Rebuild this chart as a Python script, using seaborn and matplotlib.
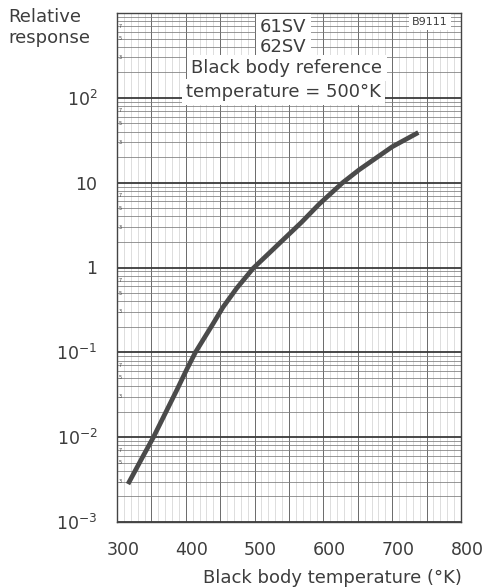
import numpy as np
import pandas as pd
import matplotlib
matplotlib.use("Agg")
import matplotlib.pyplot as plt
import matplotlib.transforms as mtransforms
import seaborn as sns

# Dữ liệu đọc từ đồ thị
temps = [316, 338, 353, 387, 401, 414, 440, 454, 474, 498, 522, 546, 568,
         594, 628, 652, 700, 738]
response = [0.0028, 0.0060, 0.010, 0.036, 0.062, 0.10, 0.22, 0.34, 0.57, 0.98,
            1.5, 2.3, 3.4, 5.6, 10.0, 14.2, 26.5, 39.0]
x_ticks = [300, 400, 500, 600, 700, 800]
y_ticks = [1e-3, 1e-2, 1e-1, 1, 10, 100]
y_tick_labels = ["$10^{-3}$", "$10^{-2}$", "$10^{-1}$", "1", "10", "$10^{2}$"]
minor_marks = [3, 5, 7]

df = pd.DataFrame({"temp": temps, "response": response})

sns.set_theme(style="white")
plt.rcParams["font.family"] = ["DejaVu Sans"]
ink = "#3d3d3d"

fig = plt.figure(figsize=(4.86, 5.88), dpi=100)
ax = fig.add_axes([117 / 486, 1 - 522 / 588, 344 / 486, 509 / 588])

ax.set_yscale("log")
ax.set_xlim(300, 800)
ax.set_ylim(1e-3, 1e3)

# Lưới giấy log
for t in range(300, 801, 10):
    if t % 50 == 0:
        ax.axvline(t, color="#6a6a6a", lw=0.7, zorder=1)
    else:
        ax.axvline(t, color="#d0d0d0", lw=0.5, zorder=1)
for e in range(-3, 3):
    base = 10.0 ** e
    ax.axhline(base, color="#3a3a3a", lw=1.3, zorder=1)
    for m in range(2, 10):
        ax.axhline(m * base, color="#7a7a7a", lw=0.55, zorder=1)
    for m in minor_marks:
        ax.text(0.006, m * base, str(m), transform=ax.get_yaxis_transform(),
                fontsize=3.5, color=ink, ha="left", va="center", zorder=2)

sns.lineplot(data=df, x="temp", y="response", ax=ax, color="#4a4a4a",
             lw=3.4, solid_capstyle="butt", solid_joinstyle="round", zorder=5)

ax.set_xticks(x_ticks)
ax.set_xticklabels([str(v) for v in x_ticks], fontsize=12.5, color=ink)
ax.set_yticks(y_ticks)
ax.set_yticklabels(y_tick_labels, fontsize=12.5, color=ink)
ax.minorticks_off()
ax.tick_params(axis="both", length=0)
ax.tick_params(axis="x", pad=14)
ax.tick_params(axis="y", pad=14)
shift = mtransforms.ScaledTranslation(6 / 100, 0, fig.dpi_scale_trans)
for lab in ax.get_xticklabels():
    lab.set_transform(lab.get_transform() + shift)
ax.set_xlabel("")
ax.set_ylabel("")
for s in ax.spines.values():
    s.set_color("#444444")
    s.set_linewidth(1.0)

# Chú thích
box = dict(facecolor="white", edgecolor="none", pad=3)
ax.text(0.483, 0.972, "61SV", transform=ax.transAxes, fontsize=13, color=ink,
        ha="center", va="center", bbox=box, zorder=6)
ax.text(0.483, 0.933, "62SV", transform=ax.transAxes, fontsize=13, color=ink,
        ha="center", va="center", bbox=box, zorder=6)
ax.text(0.494, 0.892, "Black body reference", transform=ax.transAxes, fontsize=13,
        color=ink, ha="center", va="center", bbox=box, zorder=6)
ax.text(0.485, 0.845, "temperature = 500°K", transform=ax.transAxes, fontsize=13,
        color=ink, ha="center", va="center", bbox=box, zorder=6)
ax.text(0.910, 0.982, "B9111", transform=ax.transAxes, fontsize=8, color=ink,
        ha="center", va="center", bbox=dict(facecolor="white", edgecolor="none", pad=2),
        zorder=6)

fig.text(8 / 486, 1 - 17 / 588, "Relative", fontsize=13, color=ink,
         ha="left", va="center")
fig.text(8 / 486, 1 - 38 / 588, "response", fontsize=13, color=ink,
         ha="left", va="center")
fig.text(332 / 486, 1 - 578 / 588, "Black body temperature (°K)", fontsize=13,
         color=ink, ha="center", va="center")

fig.savefig("out.png", dpi=100)
plt.close(fig)
